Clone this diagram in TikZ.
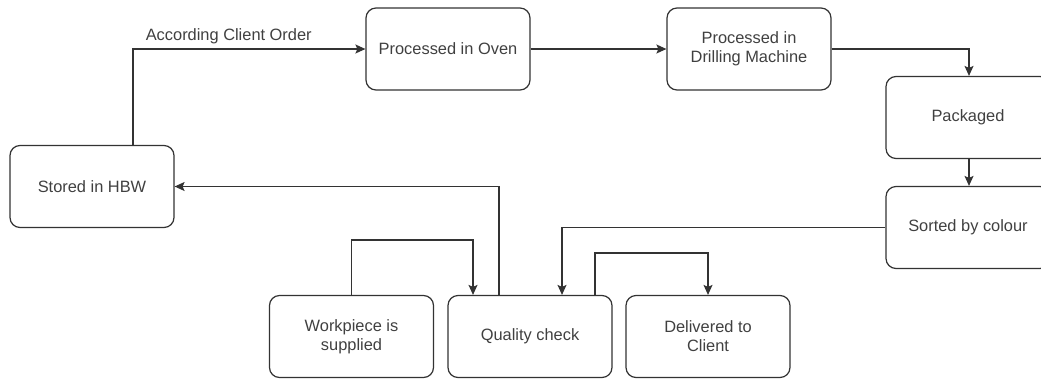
\documentclass[tikz,border=0pt]{standalone}
\usepackage{fontspec}
\setmainfont{Liberation Sans}
\usetikzlibrary{arrows.meta}

\tikzset{
  stepbox/.style={draw=black!80, line width=1.2pt, rounded corners=10pt,
    minimum width=164pt, minimum height=82pt, align=center,
    text=black!75, font=\fontsize{16.4}{19}\selectfont, inner sep=2pt},
  flow/.style={draw=black!80, line width=1.2pt,
    -{Stealth[length=10pt,width=9pt,inset=2pt]}},
  flowlabel/.style={text=black!75, font=\fontsize{16.4}{19}\selectfont}
}

\begin{document}
\begin{tikzpicture}[x=1pt, y=-1pt]
  \useasboundingbox (0,0) rectangle (1041,378);

  % process steps
  \node[stepbox] (hbw)   at (92,186.5)   {Stored in HBW};
  \node[stepbox] (oven)  at (448,49)     {Processed in Oven};
  \node[stepbox] (drill) at (749,49)     {Processed in\\Drilling Machine};
  \node[stepbox] (pack)  at (968,117.5)  {Packaged};
  \node[stepbox] (sort)  at (968,227.5)  {Sorted by colour};
  \node[stepbox] (work)  at (351.5,336.5) {Workpiece is\\supplied};
  \node[stepbox] (qc)    at (530,336.5)  {Quality check};
  \node[stepbox] (deliv) at (708,336.5)  {Delivered to\\Client};

  % connectors
  \draw[flow] ([xshift=41pt]hbw.north) |- (oven.west)
    node[flowlabel, pos=0.706, anchor=south, inner sep=4pt] {According Client Order};
  \draw[flow] (oven.east) -- (drill.west);
  \draw[flow] (drill.east) -| ([xshift=1pt]pack.north);
  \draw[flow] ([xshift=1pt]pack.south) -- ([xshift=1pt]sort.north);
  \draw[flow] (sort.west) -| ([xshift=32pt]qc.north);
  \draw[flow] ([xshift=-31pt]qc.north) |- (hbw.east);
  \draw[flow] (work.north) -- ++(0,-55) -| ([xshift=-57pt]qc.north);
  \draw[flow] ([xshift=65pt]qc.north) -- ++(0,-42) -| (deliv.north);
\end{tikzpicture}
\end{document}
